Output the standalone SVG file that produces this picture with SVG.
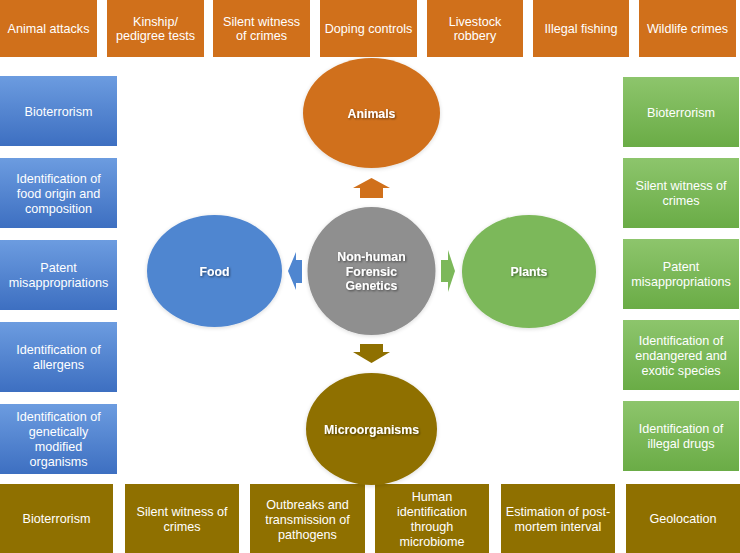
<svg xmlns="http://www.w3.org/2000/svg" width="740" height="553" viewBox="0 0 740 553">
<defs>
  <linearGradient id="gBlue" x1="0" y1="0" x2="0" y2="1">
    <stop offset="0" stop-color="#6C9CE0"/>
    <stop offset="1" stop-color="#3D6FC1"/>
  </linearGradient>
  <linearGradient id="gGreen" x1="0" y1="0" x2="0" y2="1">
    <stop offset="0" stop-color="#8DC56C"/>
    <stop offset="1" stop-color="#6AAC46"/>
  </linearGradient>
  <filter id="ts" x="-20%" y="-20%" width="140%" height="160%">
    <feDropShadow dx="1" dy="1" stdDeviation="0.8" flood-color="#000" flood-opacity="0.55"/>
  </filter>
  <filter id="glow" x="-10%" y="-10%" width="120%" height="120%">
    <feGaussianBlur in="SourceAlpha" stdDeviation="2"/>
    <feOffset dx="0" dy="1"/>
    <feComponentTransfer><feFuncA type="linear" slope="0.15"/></feComponentTransfer>
    <feMerge><feMergeNode/><feMergeNode in="SourceGraphic"/></feMerge>
  </filter>
</defs>
<style>
  .t { font-family: "Liberation Sans", Arial, sans-serif; font-size: 12.6px; fill: #FFFFFF; text-anchor: middle; }
  .c { font-family: "Liberation Sans", Arial, sans-serif; font-size: 12.3px; font-weight: bold; fill: #FFFFFF; text-anchor: middle; }
  .or { fill: #D0701B; }
  .ol { fill: #8F7000; }
  .bl { fill: url(#gBlue); }
  .gr { fill: url(#gGreen); }
</style>

<!-- Top row: animal applications -->
<g id="top-animal-attacks"><rect class="or" x="0" y="0" width="97" height="57"/><text class="t" x="48.5" y="33">Animal attacks</text></g>
<g id="top-kinship"><rect class="or" x="107" y="0" width="97" height="57"/><text class="t" x="155.5" y="25.5">Kinship/<tspan x="155.5" dy="14.5">pedigree tests</tspan></text></g>
<g id="top-silent"><rect class="or" x="213" y="0" width="97" height="57"/><text class="t" x="261.5" y="25.5">Silent witness<tspan x="261.5" dy="14.5">of crimes</tspan></text></g>
<g id="top-doping"><rect class="or" x="320" y="0" width="97" height="57"/><text class="t" x="368.5" y="33">Doping controls</text></g>
<g id="top-livestock"><rect class="or" x="427" y="0" width="96" height="57"/><text class="t" x="475" y="25.5">Livestock<tspan x="475" dy="14.5">robbery</tspan></text></g>
<g id="top-fishing"><rect class="or" x="533" y="0" width="96" height="57"/><text class="t" x="581" y="33">Illegal fishing</text></g>
<g id="top-wildlife"><rect class="or" x="639" y="0" width="97" height="57"/><text class="t" x="687.5" y="33">Wildlife crimes</text></g>

<!-- Left column: food applications -->
<g id="left-bioterrorism"><rect class="bl" x="0" y="76" width="117" height="70"/><text class="t" x="58.5" y="115.5">Bioterrorism</text></g>
<g id="left-food-origin"><rect class="bl" x="0" y="158" width="117" height="70"/><text class="t" x="58.5" y="182.5">Identification of<tspan x="58.5" dy="15">food origin and</tspan><tspan x="58.5" dy="15">composition</tspan></text></g>
<g id="left-patent"><rect class="bl" x="0" y="240" width="117" height="70"/><text class="t" x="58.5" y="272">Patent<tspan x="58.5" dy="15">misappropriations</tspan></text></g>
<g id="left-allergens"><rect class="bl" x="0" y="322" width="117" height="70"/><text class="t" x="58.5" y="354">Identification of<tspan x="58.5" dy="15">allergens</tspan></text></g>
<g id="left-gmo"><rect class="bl" x="0" y="404" width="117" height="70"/><text class="t" x="58.5" y="421">Identification of<tspan x="58.5" dy="15">genetically</tspan><tspan x="58.5" dy="15">modified</tspan><tspan x="58.5" dy="15">organisms</tspan></text></g>

<!-- Right column: plant applications -->
<g id="right-bioterrorism"><rect class="gr" x="623" y="77" width="116" height="70"/><text class="t" x="681" y="116.5">Bioterrorism</text></g>
<g id="right-silent"><rect class="gr" x="623" y="158" width="116" height="70"/><text class="t" x="681" y="190">Silent witness of<tspan x="681" dy="15">crimes</tspan></text></g>
<g id="right-patent"><rect class="gr" x="623" y="239" width="116" height="70"/><text class="t" x="681" y="271">Patent<tspan x="681" dy="15">misappropriations</tspan></text></g>
<g id="right-endangered"><rect class="gr" x="623" y="320" width="116" height="70"/><text class="t" x="681" y="345">Identification of<tspan x="681" dy="15">endangered and</tspan><tspan x="681" dy="15">exotic species</tspan></text></g>
<g id="right-drugs"><rect class="gr" x="623" y="401" width="116" height="70"/><text class="t" x="681" y="433">Identification of<tspan x="681" dy="15">illegal drugs</tspan></text></g>

<!-- Bottom row: microorganism applications -->
<g id="bottom-bioterrorism"><rect class="ol" x="0" y="484" width="113" height="70"/><text class="t" x="56.5" y="523">Bioterrorism</text></g>
<g id="bottom-silent"><rect class="ol" x="125" y="484" width="114" height="70"/><text class="t" x="182" y="516">Silent witness of<tspan x="182" dy="15">crimes</tspan></text></g>
<g id="bottom-outbreaks"><rect class="ol" x="250" y="484" width="115" height="70"/><text class="t" x="307.5" y="508.5">Outbreaks and<tspan x="307.5" dy="15">transmission of</tspan><tspan x="307.5" dy="15">pathogens</tspan></text></g>
<g id="bottom-human"><rect class="ol" x="375" y="484" width="114" height="70"/><text class="t" x="432" y="501">Human<tspan x="432" dy="15">identification</tspan><tspan x="432" dy="15">through</tspan><tspan x="432" dy="15">microbiome</tspan></text></g>
<g id="bottom-pmi"><rect class="ol" x="501" y="484" width="114" height="70"/><text class="t" x="558" y="516">Estimation of post-<tspan x="558" dy="15">mortem interval</tspan></text></g>
<g id="bottom-geolocation"><rect class="ol" x="626" y="484" width="114" height="70"/><text class="t" x="683" y="523">Geolocation</text></g>

<!-- Connectors (block arrows) -->
<g id="connectors">
  <polygon fill="#D0701B" points="371.5,178 390,188 383,188 383,198 360,198 360,188 353,188"/>
  <polygon fill="#8F7000" points="360,344 383,344 383,352 390,352 371.5,363 353,352 360,352"/>
  <polygon fill="#4F86D0" points="288,271 296,252 296,260 302,260 302,283 296,283 296,290"/>
  <polygon fill="#7CB85A" points="441,260 448,260 448,250 455,271 448,292 448,282 441,282"/>
</g>

<!-- Central nodes -->
<g id="node-animals" filter="url(#glow)"><ellipse cx="371.5" cy="113" rx="68.5" ry="55" fill="#D0701B"/><text class="c" x="371.5" y="117.5" filter="url(#ts)">Animals</text></g>
<g id="node-center" filter="url(#glow)"><circle cx="371.5" cy="271" r="64" fill="#8F8F8F"/><text class="c" x="371.5" y="261" filter="url(#ts)">Non-human<tspan x="371.5" dy="14.5">Forensic</tspan><tspan x="371.5" dy="14.5">Genetics</tspan></text></g>
<g id="node-food" filter="url(#glow)"><ellipse cx="214.5" cy="271" rx="67.5" ry="56" fill="#4F86D0"/><text class="c" x="214.5" y="275.5" filter="url(#ts)">Food</text></g>
<g id="node-plants" filter="url(#glow)"><ellipse cx="529" cy="271.5" rx="67" ry="56.5" fill="#7CB85A"/><text class="c" x="529" y="276" filter="url(#ts)">Plants</text></g>
<g id="node-microorganisms" filter="url(#glow)"><ellipse cx="371.5" cy="429" rx="65.5" ry="56" fill="#8F7000"/><text class="c" x="371.5" y="433.5" filter="url(#ts)">Microorganisms</text></g>
</svg>
